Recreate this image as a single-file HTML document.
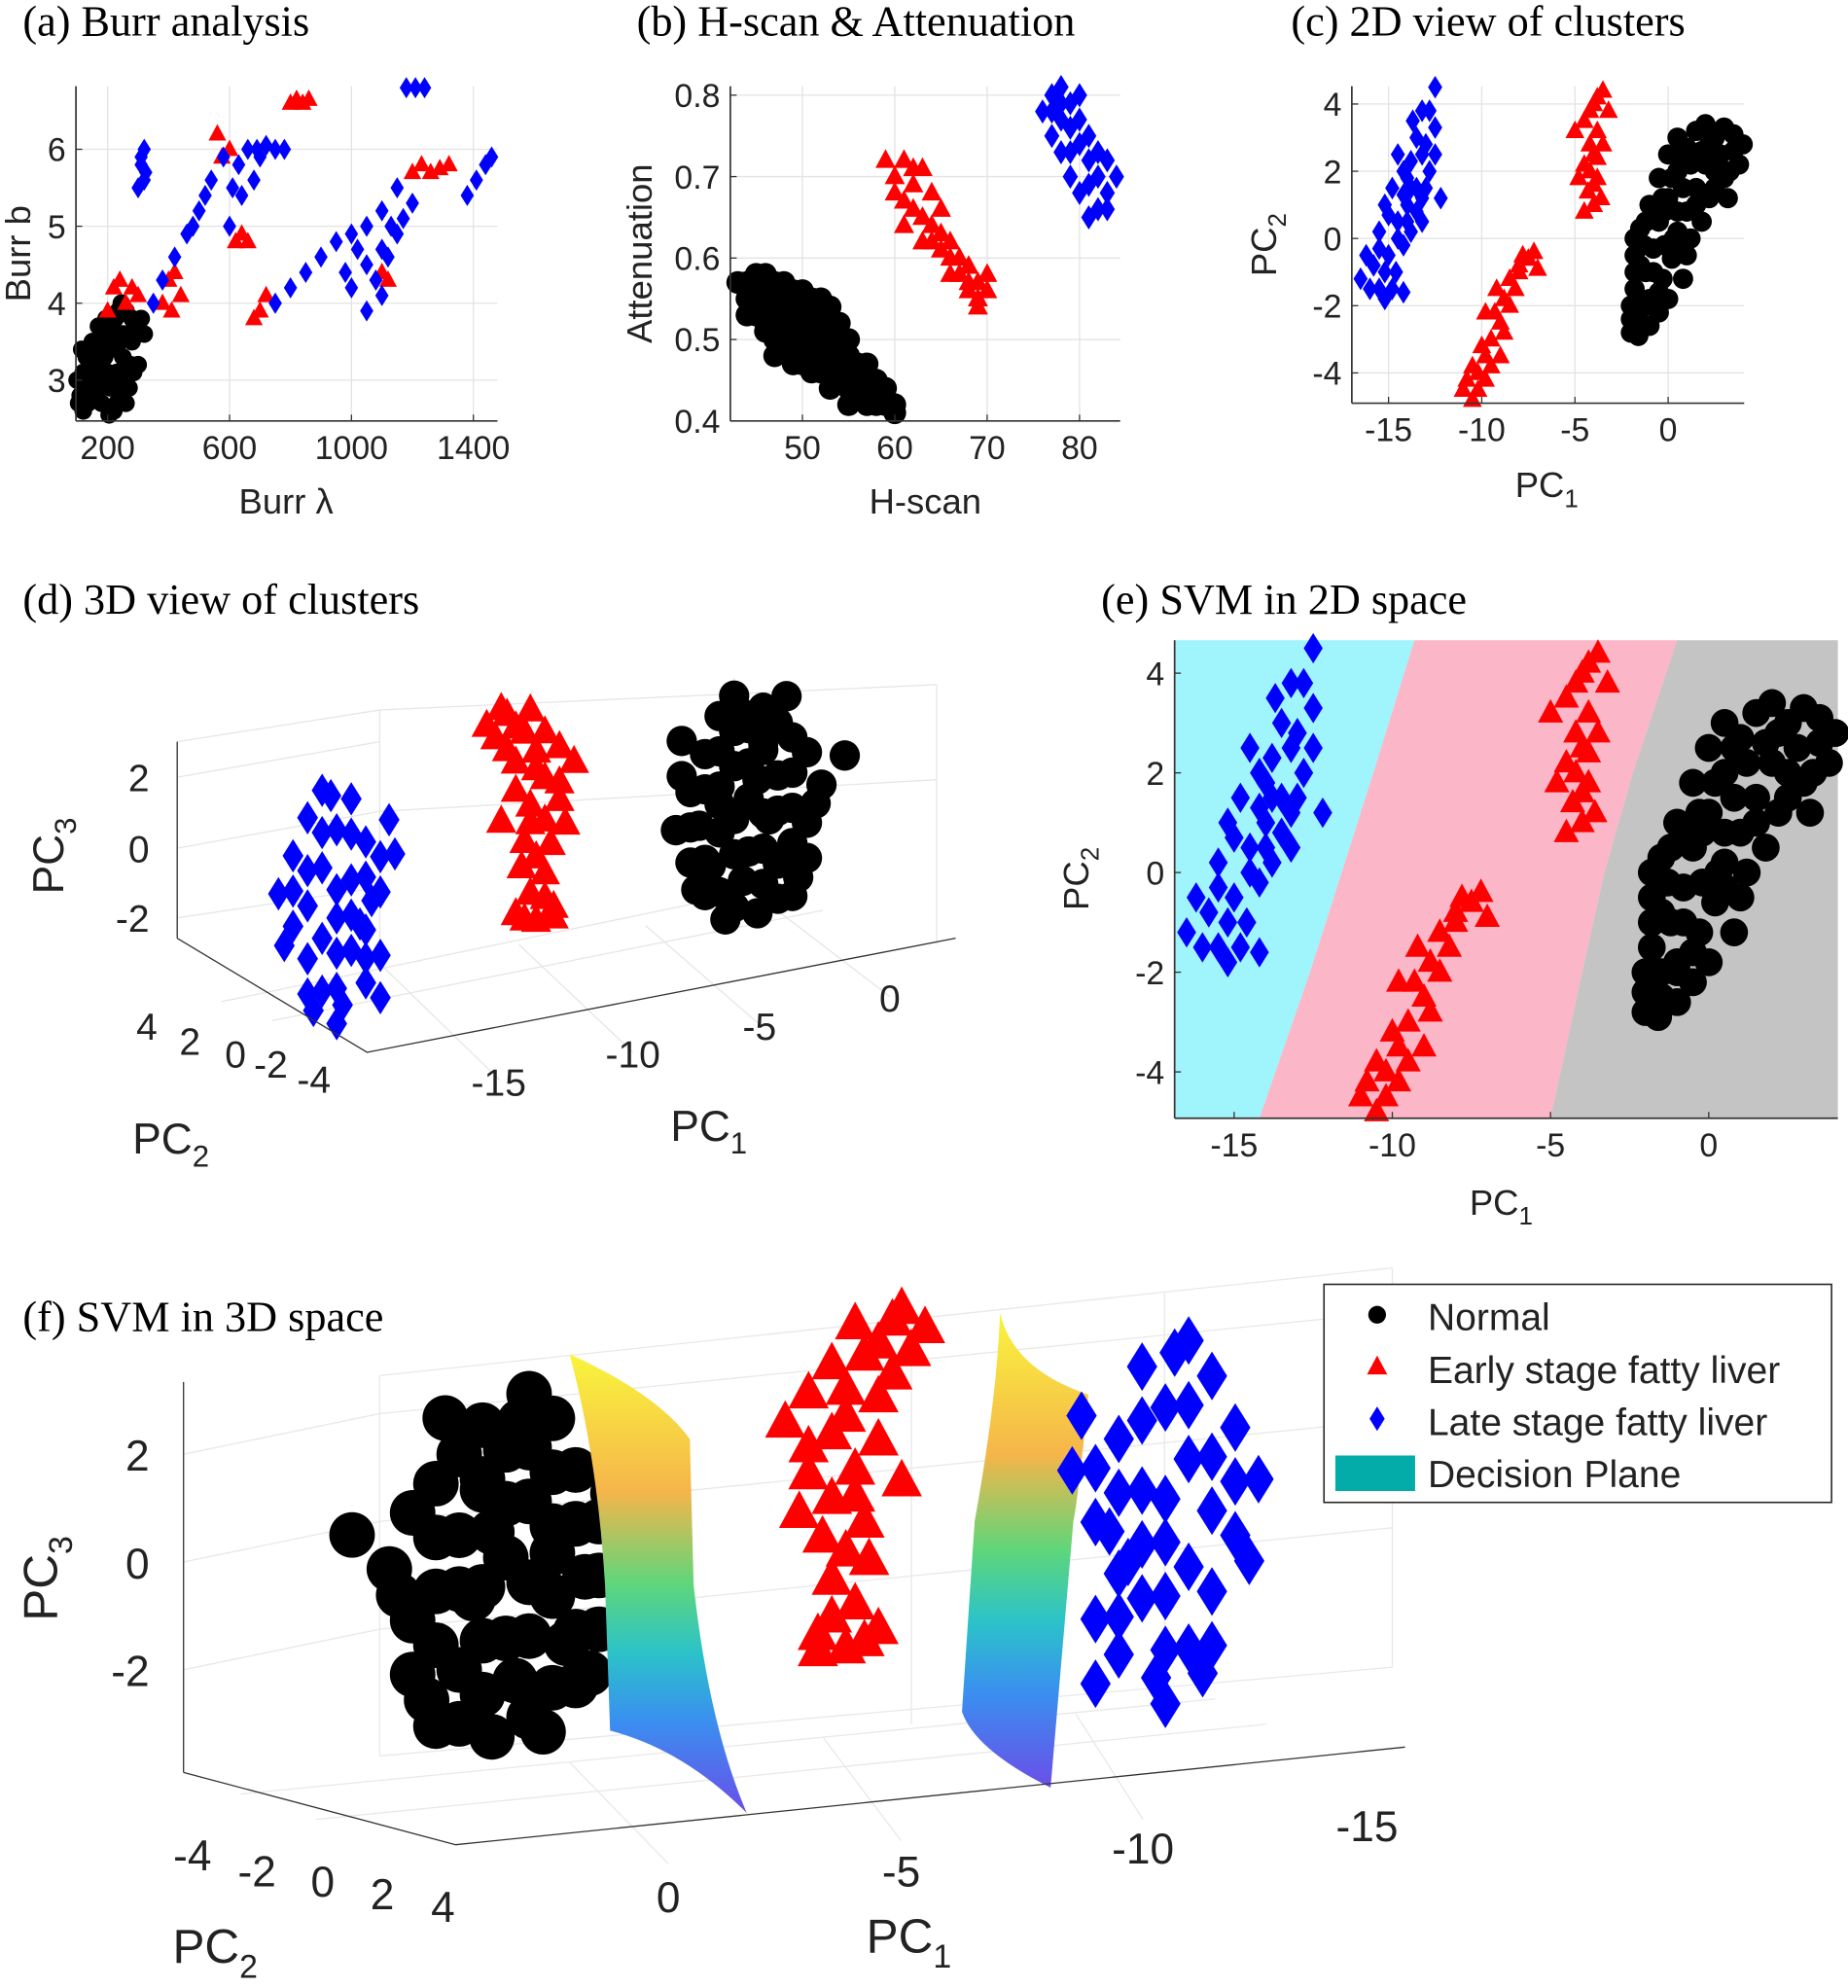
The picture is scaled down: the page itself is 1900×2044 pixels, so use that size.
<!DOCTYPE html>
<html><head><meta charset="utf-8"><style>
html,body{margin:0;padding:0;background:#fff;}
svg{display:block;}
.t{font-family:"Liberation Serif",serif;font-size:34px;fill:#000;}
.s{font-family:"Liberation Sans",sans-serif;fill:#222;}
</style></head><body>
<svg id="fig" width="1900" height="2044" viewBox="0 0 1460 1568" preserveAspectRatio="none" xmlns="http://www.w3.org/2000/svg">
<defs>
<linearGradient id="pg" x1="0" y1="0" x2="0" y2="1">
<stop offset="0" stop-color="#f9f53c"/><stop offset="0.3" stop-color="#f5b54a"/><stop offset="0.5" stop-color="#5fd67a"/><stop offset="0.65" stop-color="#2bc3c8"/><stop offset="0.8" stop-color="#3a8ff0"/><stop offset="1" stop-color="#6a4ee8"/>
</linearGradient>
</defs>
<g id="root"></g>
</svg>
<script>
// ---------- data ----------
const aBlack=[[110,2.8],[120,3.1],[130,3.3],[140,2.9],[150,3.5],[160,3.2],[170,3.7],[180,2.7],[190,3.0],[200,3.4],[210,3.8],[220,2.6],[230,3.1],[240,3.6],[250,3.3],[260,3.9],[270,2.9],[280,3.5],[290,3.7],[300,3.2],[205,2.55],[215,3.0],[225,3.5],[235,3.9],[245,2.8],[255,3.1],[265,3.6],[100,3.0],[105,2.7],[115,3.4],[135,2.7],[155,3.0],[175,3.4],[195,3.8],[185,3.5],[245,4.0],[275,3.2],[310,3.8],[320,3.6],[230,2.7],[120,2.6],[145,3.1],[165,2.8],[200,3.1],[215,3.6],[230,3.4],[250,3.6],[265,3.2],[285,3.1],[300,3.6],[210,2.9],[240,3.0],[260,2.7],[280,3.8],[225,3.8],[190,3.3]];
const aRed=[[200,3.9],[220,4.2],[240,4.3],[260,4.0],[280,4.2],[300,4.1],[380,4.0],[400,4.3],[420,4.4],[440,4.1],[410,3.9],[560,6.2],[575,5.9],[600,6.0],[620,4.8],[640,4.9],[660,4.8],[680,3.8],[700,3.9],[720,4.1],[800,6.6],[820,6.65],[840,6.6],[860,6.65],[1100,4.4],[1120,4.3],[1200,5.7],[1230,5.8],[1260,5.7],[1290,5.75],[1320,5.8]];
const aBlue=[[300,5.5],[310,5.9],[320,6.0],[325,5.7],[350,4.0],[380,4.3],[420,4.6],[460,4.9],[500,5.2],[540,5.6],[580,5.9],[610,5.5],[630,5.8],[660,6.0],[690,6.0],[720,6.05],[750,6.0],[780,6.0],[600,5.0],[640,5.4],[680,5.6],[750,4.0],[800,4.2],[850,4.4],[900,4.6],[950,4.8],[1000,4.9],[1050,5.0],[1100,5.2],[1150,5.5],[1000,4.2],[1050,4.5],[1100,4.7],[1150,4.9],[1200,5.3],[1050,3.9],[1100,4.1],[1180,6.8],[1210,6.8],[1240,6.8],[1380,5.4],[1410,5.6],[1440,5.8],[1460,5.9],[310,5.8],[320,5.6],[480,5.0],[520,5.4],[700,5.9],[1080,4.3],[1120,4.6],[1130,5.0],[1170,5.1],[980,4.4],[1020,4.7]];
const aXTicks=[200,600,1000,1400];
const aYTicks=[3,4,5,6];
const bBlack=[[43,0.57],[44,0.55],[45,0.56],[45,0.53],[46,0.58],[46,0.51],[47,0.55],[47,0.52],[48,0.57],[48,0.49],[49,0.54],[49,0.51],[50,0.56],[50,0.47],[50,0.5],[51,0.53],[51,0.48],[52,0.55],[52,0.5],[52,0.46],[53,0.52],[53,0.47],[54,0.5],[54,0.45],[55,0.48],[55,0.44],[56,0.47],[56,0.43],[57,0.45],[57,0.42],[58,0.44],[59,0.42],[60,0.41],[48,0.53],[46,0.54],[51,0.5],[53,0.49],[55,0.46],[49,0.47],[47,0.5],[44,0.57],[45,0.58],[46,0.56],[47,0.57],[48,0.55],[49,0.56],[50,0.53],[51,0.55],[52,0.52],[53,0.54],[54,0.48],[55,0.5],[56,0.45],[57,0.47],[58,0.42],[59,0.44],[60,0.42],[51,0.46],[50,0.52],[48,0.51],[46,0.52],[44,0.53],[47,0.48],[53,0.44],[57,0.44],[54,0.52],[49,0.49],[52,0.48],[55,0.42],[58,0.45]];
const bRed=[[59,0.72],[60,0.7],[61,0.72],[62,0.69],[63,0.71],[62,0.66],[61,0.64],[63,0.65],[64,0.68],[65,0.66],[64,0.62],[65,0.61],[66,0.6],[67,0.58],[68,0.59],[69,0.57],[70,0.56],[69,0.54],[68,0.56],[66,0.58],[67,0.6],[70,0.58],[63,0.62],[61,0.67],[60,0.68],[62,0.71],[64,0.64],[66,0.62],[68,0.57],[69,0.55],[65,0.63]];
const bBlue=[[76,0.78],[77,0.8],[78,0.81],[79,0.79],[80,0.8],[77,0.75],[78,0.73],[79,0.76],[80,0.74],[81,0.72],[82,0.7],[83,0.68],[82,0.66],[80,0.68],[79,0.7],[81,0.65],[83,0.72],[84,0.7],[78,0.77],[80,0.77],[77,0.78],[79,0.73],[81,0.75],[82,0.73],[81,0.69],[83,0.66],[78,0.79]];
const bXTicks=[50,60,70,80];
const bYTicks=[0.4,0.5,0.6,0.7,0.8];
const pcBlack=[[-2,-2.8],[-1.5,-2.5],[-1,-2],[-1.8,-1.5],[-0.5,-2.2],[-1.2,-1],[-0.3,-1.2],[-1.8,-0.5],[-0.8,-0.3],[0.2,-0.6],[-1.5,0.3],[-0.5,0.5],[0.5,0.2],[-1,1],[0,1.2],[1,0.8],[-0.5,1.8],[0.5,2],[1.5,1.5],[0,2.5],[1,2.7],[2,2.2],[1.5,3.2],[2.5,3],[3,3.3],[3.5,2.6],[4,2.8],[2.5,2],[3,1.8],[3.2,1.2],[-2,-2],[0.8,-1.2],[1.8,0.5],[-1,-1.8],[0.3,0],[-0.2,0.8],[2.2,1.2],[-1.6,-2.9],[0.5,3],[3.8,2.2],[-1.5,-2],[-1,-2.6],[-0.5,-1.6],[-1.8,-1],[-1.3,-0.2],[-0.2,-0.2],[0.5,-0.3],[-0.8,0.8],[0.8,1.5],[0.2,1.8],[1.2,2.2],[-0.3,1.2],[1.8,2.6],[2.2,2.8],[2.8,2.5],[3.3,2],[2.5,1.5],[1.2,0],[0.5,0.8],[-1.2,0.5],[-1.5,-0.8],[0,-1.8],[2,3.4],[3.5,3.1],[-2,-2.4],[1,-0.5],[1.5,1],[-0.8,-1],[0.8,2.5],[-1.8,0]];
const pcRed=[[-5,3.2],[-4.5,3.5],[-4,4],[-3.5,4.4],[-3.2,3.8],[-3.8,3.2],[-4.2,2.8],[-4.5,2.2],[-4,2.5],[-3.8,1.8],[-4.3,1.4],[-4,1],[-4.5,0.8],[-3.6,1.2],[-4.8,1.8],[-3.5,2.8],[-4.2,3.8],[-3.8,4.2],[-4.2,2],[-3.8,2.4],[-4,1.6],[-11,-4.5],[-10.5,-4.8],[-10.2,-4],[-9.8,-3.5],[-10.5,-3.8],[-9.5,-3],[-9,-2.5],[-9.8,-2.2],[-8.8,-1.8],[-9.2,-1.5],[-8.5,-1.2],[-8,-1],[-7.5,-0.6],[-7,-0.9],[-7.8,-0.5],[-9.5,-3.8],[-10.8,-4.2],[-8.8,-2.8],[-10.2,-4.5],[-9.8,-4.2],[-10,-3.2],[-9.3,-2.2],[-8.5,-2],[-8.2,-1.5],[-7.2,-0.4],[-9,-3.5],[-8,-0.8]];
const pcBlue=[[-16.5,-1.2],[-16,-1.5],[-15.8,-0.8],[-15.2,-1],[-14.8,-1.5],[-15,-0.5],[-14.2,-0.2],[-14.5,0.5],[-15.5,0.2],[-14,1],[-13.5,0.8],[-14.8,1.5],[-14,1.8],[-13,1.5],[-13.8,2.3],[-13.2,2.5],[-14.5,2.5],[-12.8,2],[-13.5,3],[-12.5,3.3],[-13.2,3.8],[-12.5,4.5],[-15.2,1],[-13.8,0.2],[-12.2,1.2],[-14.2,-1.6],[-16.2,-0.5],[-12.8,3.8],[-15.5,-1.5],[-15.5,-0.3],[-14.5,0],[-14,0.5],[-13.5,1.5],[-14.2,1.3],[-13.8,1.5],[-13,2.8],[-13.7,3.5],[-14.2,2],[-15,0.7],[-12.5,2.5],[-13.2,0.5],[-14.6,-1],[-15.2,-1.8],[-13.2,1.2]];
const pcXTicks=[-15,-10,-5,0];
const pcYTicks=[-4,-2,0,2,4];
const svmPc2=[4.66,2,0,-2,-4.93];
const svmB1=[-9.3,-10.6,-11.6,-12.6,-14.2];
const svmB2=[-1,-2.4,-3.3,-4.0,-5.0];
const black3=[[-2,0],[-1.5,1],[-1.5,-1],[-1,2],[-1,-2],[-0.5,3],[-0.5,0.5],[0,-2.5],[0,1.5],[0,3.5],[0.5,-1],[0.5,2.5],[1,0],[1,-2],[1,3],[1.5,1],[1.5,-1.5],[2,2],[2,0],[2.5,-0.5],[2.5,1.5],[3,0.5],[-1.8,2.5],[-0.8,-1.2],[0.8,1],[3.8,1.2],[1.8,3.2],[-1.2,0],[0.3,-1.8],[2.2,-2],[0,-1],[1,1.8],[-0.5,-0.3],[1.5,-2.5],[2.5,-1.5],[-1.5,0],[-1,1],[-1,-1],[-0.5,2],[-0.5,-2],[0,0],[0,2.5],[0.5,0.5],[0.5,1.5],[1,-1],[1,2],[1.5,0],[1.5,2.5],[2,1],[2,-1],[2,-2.5],[-1.8,1.5],[-0.3,-2.8],[0.8,-2.8],[2.8,0],[-0.5,1],[0.2,3],[1.2,-0.2],[-1.3,-1.8]];
const red3=[[-8.5,4],[-8,4.4],[-7.5,3.8],[-7,4.2],[-6.5,3.5],[-6,3],[-5.5,2.5],[-7.8,3.2],[-6.8,2.5],[-7,1.5],[-6.5,1],[-7.2,0.5],[-6.8,0],[-6.5,-0.5],[-7,-1],[-6.2,-1.5],[-6.8,-1.8],[-7.5,-1.5],[-6,2],[-7.5,2],[-8,1.2],[-5.8,0.8],[-7.8,4.2],[-7.2,3.6],[-6.8,3],[-7.5,2.8],[-6.5,2.2],[-7,1],[-6.3,0.3],[-7.3,-0.2],[-6.5,-1.2],[-7.2,-1.7],[-6.2,-1.8],[-8.2,3.6],[-6,1.5]];
const blue3=[[-16,0.5],[-15.5,1.5],[-15.5,-0.5],[-15,2.5],[-15,0],[-15,-1.5],[-14.5,3.2],[-14.5,1],[-14.5,-2.5],[-14,2],[-14,-0.5],[-14,-3.5],[-13.5,0.5],[-13.5,-1.5],[-13.5,2.8],[-13,1.5],[-13,-2.5],[-12.5,0],[-12.5,-3],[-12,1],[-14.8,-3],[-13.2,-0.8],[-15.8,-1],[-12.2,2],[-14,0.3],[-13,-1],[-15.5,0.5],[-15,1],[-14.5,2],[-14.5,-1],[-14,-1.5],[-14,-2.5],[-13.5,-0.5],[-13.5,1.8],[-13,0.5],[-13,-1.8],[-12.5,1],[-12.5,-1.8],[-15,-2.5],[-14.2,3],[-13.8,-3],[-12.8,-0.2]];
const pc2Black=0, pc2Red=0, pc2Blue=-0.5;

// ---------- helpers ----------
const NS='http://www.w3.org/2000/svg';
const root=document.getElementById('root');
function mk(tag,attrs,parent){const e=document.createElementNS(NS,tag);for(const k in attrs)e.setAttribute(k,attrs[k]);(parent||root).appendChild(e);return e;}
function txt(x,y,s,cls,size,anchor,parent){const e=mk('text',{x:x,y:y,'class':cls,'font-size':size,'text-anchor':anchor||'start'},parent);e.textContent=s;return e;}
function marker(type,x,y,r,color,g){
  let e;
  if(type==='c') e=mk('circle',{cx:x,cy:y,r:r,fill:color},g);
  else if(type==='t') e=mk('polygon',{points:`${x},${y-r*1.1} ${x-r},${y+r*0.75} ${x+r},${y+r*0.75}`,fill:color},g);
  else e=mk('polygon',{points:`${x},${y-r*1.2} ${x+r*0.75},${y} ${x},${y+r*1.2} ${x-r*0.75},${y}`,fill:color},g);
  
  
  return e;
}
function lin(d0,d1,p0,p1){return v=>p0+(v-d0)/(d1-d0)*(p1-p0);}
function panel2D(name,box,xr,yr,xt,yt,xfmt,yfmt,grid){
  const g=mk('g',{});
  
  
  const sx=lin(xr[0],xr[1],box[0],box[2]), sy=lin(yr[0],yr[1],box[3],box[1]);
  if(grid){
    xt.forEach(v=>mk('line',{x1:sx(v),x2:sx(v),y1:box[1],y2:box[3],stroke:'#e3e3e3','stroke-width':1},g));
    yt.forEach(v=>mk('line',{x1:box[0],x2:box[2],y1:sy(v),y2:sy(v),stroke:'#e3e3e3','stroke-width':1},g));
  }
  return {g,sx,sy,box,xt,yt,xfmt,yfmt};
}
function axes2D(p,fs){
  const {g,sx,sy,box}=p;
  mk('line',{x1:box[0],x2:box[0],y1:box[1],y2:box[3],stroke:'#333','stroke-width':1.3},g);
  mk('line',{x1:box[0],x2:box[2],y1:box[3],y2:box[3],stroke:'#333','stroke-width':1.3},g);
  p.xt.forEach(v=>{mk('line',{x1:sx(v),x2:sx(v),y1:box[3],y2:box[3]-5,stroke:'#333'},g);const t=txt(sx(v),box[3]+fs+4,p.xfmt(v),'s',fs,'middle',g);});
  p.yt.forEach(v=>{mk('line',{x1:box[0],x2:box[0]+5,y1:sy(v),y2:sy(v),stroke:'#333'},g);const t=txt(box[0]-8,sy(v)+fs*0.36,p.yfmt(v),'s',fs,'end',g);});
}
function scatter(p,data,type,r,color){data.forEach(d=>marker(type,p.sx(d[0]),p.sy(d[1]),r,color,p.g));}
const fmtI=v=>String(v), fmt1=v=>v.toFixed(1);

// ---------- titles ----------
[['(a) Burr analysis',18,28],['(b) H-scan & Attenuation',503,28],['(c) 2D view of clusters',1020,28],['(d) 3D view of clusters',18,484],['(e) SVM in 2D space',870,484],['(f) SVM in 3D space',18,1050]].forEach(t=>{const e=txt(t[1],t[2],t[0],'t',34);});

// ---------- (a) ----------
const pa=panel2D('panel-a-burr',[60,68,393,332],[96,1479],[2.47,6.82],aXTicks,aYTicks,fmtI,fmtI,true);
scatter(pa,aBlack,'c',7,'#000');scatter(pa,aRed,'t',7,'#f00');scatter(pa,aBlue,'d',7,'#00f');
axes2D(pa,26);
txt(226,405,'Burr λ','s',28,'middle',pa.g);
const ya=txt(0,0,'Burr b','s',28,'middle',pa.g);ya.setAttribute('transform','translate(24,200) rotate(-90)');

// ---------- (b) ----------
const pb=panel2D('panel-b-hscan',[577,68,885,332],[42.2,84.4],[0.4,0.811],bXTicks,bYTicks,fmtI,fmt1,true);
scatter(pb,bBlack,'c',9,'#000');scatter(pb,bRed,'t',8,'#f00');scatter(pb,bBlue,'d',8,'#00f');
axes2D(pb,26);
txt(731,405,'H-scan','s',28,'middle',pb.g);
const yb=txt(0,0,'Attenuation','s',28,'middle',pb.g);yb.setAttribute('transform','translate(515,200) rotate(-90)');

// ---------- (c) ----------
const pcc=panel2D('panel-c-2d',[1068,68,1378,318],[-16.97,4.08],[-4.9,4.53],pcXTicks,pcYTicks,fmtI,fmtI,true);
scatter(pcc,pcBlack,'c',8,'#000');scatter(pcc,pcRed,'t',7.5,'#f00');scatter(pcc,pcBlue,'d',7.5,'#00f');
axes2D(pcc,26);
const xlc=txt(1222,392,'PC','s',28,'middle',pcc.g);const sc1=mk('tspan',{'font-size':20,dy:8},xlc);sc1.textContent='1';
const ylc=txt(0,0,'PC','s',28,'middle',pcc.g);ylc.setAttribute('transform','translate(1008,193) rotate(-90)');const sc2=mk('tspan',{'font-size':20,dy:8},ylc);sc2.textContent='2';

// ---------- (e) ----------
const pe=panel2D('panel-e-svm2d',[928,505,1452,882],[-16.88,4.08],[-4.93,4.66],pcXTicks,pcYTicks,fmtI,fmtI,false);
(function(){
  const {g,sx,sy}=pe;
  let b1=svmPc2.map((v,i)=>[sx(svmB1[i]),sy(v)]), b2=svmPc2.map((v,i)=>[sx(svmB2[i]),sy(v)]);
  const path=pts=>'M'+pts.map(p=>p[0].toFixed(1)+','+p[1].toFixed(1)).join(' L');
  const r1=mk('path',{d:`M928,505 L${path(b1).slice(1)} L928,882 Z`,fill:'#a0f4fb'},g);
  const r2=mk('path',{d:`${path(b1)} L${b2.slice().reverse().map(p=>p[0].toFixed(1)+','+p[1].toFixed(1)).join(' L')} Z`,fill:'#fbb6c8'},g);
  const r3=mk('path',{d:`${path(b2)} L1452,882 L1452,505 Z`,fill:'#c4c4c4'},g);
})();
scatter(pe,pcBlack,'c',11,'#000');scatter(pe,pcRed,'t',10,'#f00');scatter(pe,pcBlue,'d',10,'#00f');
axes2D(pe,26);
const xle=txt(1186,958,'PC','s',28,'middle',pe.g);const se1=mk('tspan',{'font-size':20,dy:8},xle);se1.textContent='1';
const yle=txt(0,0,'PC','s',28,'middle',pe.g);yle.setAttribute('transform','translate(860,693) rotate(-90)');const se2=mk('tspan',{'font-size':20,dy:8},yle);se2.textContent='2';

// ---------- (d) 3D ----------
const gd=mk('g',{});
const projD=(p1,p2,p3)=>[580+23*p1-16*p2, 646-4.4*p1-5*p2-27.8*p3];
[[140,585,140,740],[140,740,290,830],[290,830,755,740],[140,585,300,560],[300,560,740,540],[300,560,300,750],[420,545,420,725],[580,535,580,725],[740,540,740,745],[140,669,300,640],[300,640,740,615],[140,724,300,700],[140,613,300,585],[175,790,610,700],[215,805,650,718],[395,852,300,760],[500,830,410,745],[600,808,510,730],[703,786,610,715]].forEach(l=>mk('line',{x1:l[0],y1:l[1],x2:l[2],y2:l[3],stroke:'#e6e6e6','stroke-width':1},gd));
black3.forEach(d=>{const s=projD(d[0],pc2Black,d[1]);marker('c',s[0],s[1],12,'#000',gd);});
red3.forEach(d=>{const s=projD(d[0],pc2Red,d[1]);marker('t',s[0],s[1],12,'#f00',gd);});
blue3.forEach(d=>{const s=projD(d[0],pc2Blue,d[1]);marker('d',s[0],s[1],11,'#00f',gd);});
mk('line',{x1:140,y1:585,x2:140,y2:740,stroke:'#333'},gd);
mk('polyline',{points:'140,740 290,830 755,740',fill:'none',stroke:'#333'},gd);
[['2',118,624],['0',118,680],['-2',118,735]].forEach(t=>txt(t[1],t[2],t[0],'s',30,'end',gd));
[['4',116,820],['2',150,832],['0',186,842],['-2',214,850],['-4',248,862],['-15',394,864],['-10',500,842],['-5',600,820],['0',703,798]].forEach(t=>txt(t[1],t[2],t[0],'s',30,'middle',gd));
const xld=txt(560,900,'PC','s',34,'middle',gd);const sd1=mk('tspan',{'font-size':24,dy:10},xld);sd1.textContent='1';
const xld2=txt(135,910,'PC','s',34,'middle',gd);const sd2=mk('tspan',{'font-size':24,dy:10},xld2);sd2.textContent='2';
const yld=txt(0,0,'PC','s',34,'middle',gd);yld.setAttribute('transform','translate(50,675) rotate(-90)');const sd3=mk('tspan',{'font-size':24,dy:10},yld);sd3.textContent='3';

// ---------- (f) 3D ----------
const gf=mk('g',{});
const projF=(p1,p2,p3)=>[418-36.8*p1+25*p2, 1248+3.6*p1+5*p2-42.5*p3];
[[300,1085,300,1385],[720,1040,720,1360],[920,1020,920,1340],[1100,1000,1100,1315],[300,1385,1100,1315],[145,1147,300,1115],[300,1115,1100,1035],[145,1232,300,1200],[300,1200,1100,1120],[145,1317,300,1285],[300,1285,1100,1205],[300,1085,1100,1000],[190,1415,960,1340],[250,1435,1000,1360],[528,1470,450,1390],[712,1452,650,1370],[903,1435,850,1352]].forEach(l=>mk('line',{x1:l[0],y1:l[1],x2:l[2],y2:l[3],stroke:'#e8e8e8','stroke-width':1},gf));
black3.forEach(d=>{const s=projF(d[0],pc2Black,d[1]);marker('c',s[0],s[1],18,'#000',gf);});
const s1=mk('path',{d:'M450,1068 Q520,1100 545,1135 L548,1250 Q560,1360 590,1430 Q540,1380 482,1365 L478,1250 Q472,1150 450,1068 Z',fill:'url(#pg)'},gf);
red3.forEach(d=>{const s=projF(d[0],pc2Red,d[1]);marker('t',s[0],s[1],16,'#f00',gf);});
const s2=mk('path',{d:'M790,1035 Q800,1080 860,1100 Q852,1180 848,1200 L830,1410 Q770,1380 760,1350 L770,1200 Q788,1100 790,1035 Z',fill:'url(#pg)'},gf);
blue3.forEach(d=>{const s=projF(d[0],pc2Blue,d[1]);marker('d',s[0],s[1],16,'#00f',gf);});
mk('line',{x1:145,y1:1090,x2:145,y2:1398,stroke:'#333'},gf);
mk('polyline',{points:'145,1398 360,1455 1110,1378',fill:'none',stroke:'#333'},gf);
[['2',118,1160],['0',118,1245],['-2',118,1330]].forEach(t=>txt(t[1],t[2],t[0],'s',34,'end',gf));
[['-4',152,1475],['-2',203,1488],['0',255,1496],['2',302,1506],['4',350,1516],['0',528,1508],['-5',712,1488],['-10',903,1470],['-15',1080,1452]].forEach(t=>txt(t[1],t[2],t[0],'s',34,'middle',gf));
const xlf=txt(718,1540,'PC','s',38,'middle',gf);const sf1=mk('tspan',{'font-size':26,dy:12},xlf);sf1.textContent='1';
const xlf2=txt(170,1548,'PC','s',38,'middle',gf);const sf2=mk('tspan',{'font-size':26,dy:12},xlf2);sf2.textContent='2';
const ylf=txt(0,0,'PC','s',38,'middle',gf);ylf.setAttribute('transform','translate(45,1245) rotate(-90)');const sf3=mk('tspan',{'font-size':26,dy:12},ylf);sf3.textContent='3';

// ---------- legend ----------
const lg=mk('g',{});
mk('rect',{x:1046,y:1013,width:401,height:172,fill:'#fff',stroke:'#222','stroke-width':1.2},lg);
marker('c',1088,1037,7,'#000',lg);marker('t',1088,1078,8,'#f00',lg);marker('d',1088,1119,8,'#00f',lg);
mk('rect',{x:1055,y:1148,width:63,height:28,fill:'#03aca8'},lg);
[['Normal',1049],['Early stage fatty liver',1091],['Late stage fatty liver',1132],['Decision Plane',1173]].forEach(t=>{const e=txt(1128,t[1],t[0],'s',30,'start',lg);});
</script>
</body></html>
